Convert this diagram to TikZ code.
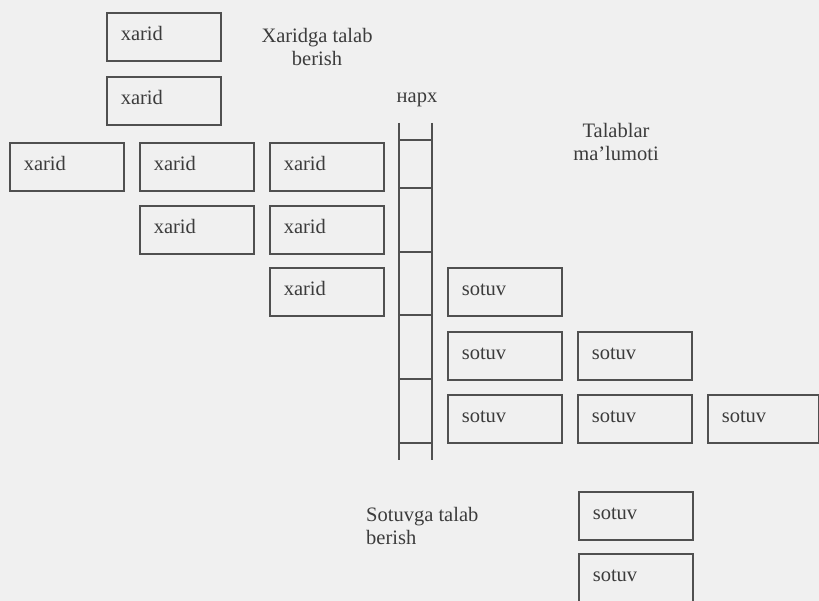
\documentclass[tikz,border=0pt]{standalone}
\usepackage{fontspec}
\setmainfont{Liberation Serif}
\definecolor{bgc}{HTML}{F0F0F0}
\definecolor{linec}{HTML}{505050}
\definecolor{txtc}{HTML}{3C3C3C}
\newcommand\boxtext[2][86pt]{\makebox[#1][l]{#2}}
\tikzset{
  box/.style={draw=linec, line width=1.6pt, anchor=north west,
    minimum height=48pt, inner xsep=14pt, inner ysep=0pt,
    text height=12pt, text depth=4pt,
    font=\fontsize{20.5}{23}\selectfont, text=txtc},
  lbl/.style={inner sep=0pt, font=\fontsize{20.5}{23.5}\selectfont, text=txtc},
  rail/.style={draw=linec, line width=1.6pt}
}
\begin{document}
\begin{tikzpicture}[x=1pt,y=-1pt]
\fill[bgc] (0,0) rectangle (819,601);
\useasboundingbox (0,0) rectangle (819,601);
% xarid boxes
\node[box] (x1) at (106,12) {\boxtext{xarid}};
\node[box] (x2) at (106,76) {\boxtext{xarid}};
\node[box] (x3) at (9,142) {\boxtext{xarid}};
\node[box] (x4) at (139,142) {\boxtext{xarid}};
\node[box] (x5) at (269,142) {\boxtext{xarid}};
\node[box] (x6) at (139,205) {\boxtext{xarid}};
\node[box] (x7) at (269,205) {\boxtext{xarid}};
\node[box] (x8) at (269,267) {\boxtext{xarid}};
% sotuv boxes
\node[box] (s1) at (447,267) {\boxtext{sotuv}};
\node[box] (s2) at (447,331) {\boxtext{sotuv}};
\node[box] (s3) at (577,331) {\boxtext{sotuv}};
\node[box] (s4) at (447,394) {\boxtext{sotuv}};
\node[box] (s5) at (577,394) {\boxtext{sotuv}};
\node[box] (s6) at (707,394) {\boxtext[83pt]{sotuv}};
\node[box] (s7) at (578,491) {\boxtext{sotuv}};
\node[box] (s8) at (578,553) {\boxtext{sotuv}};
% labels
\node[lbl, anchor=north, align=center] (lx) at (317,28) {Xaridga talab\\berish};
\node[lbl, anchor=north, align=center] (lt) at (616,123) {Talablar\\ma’lumoti};
\node[lbl, anchor=north west, align=left] (ls) at (366,507) {Sotuvga talab\\berish};
\node[lbl, anchor=base] (ln) at (417,103) {нарх};
% ladder
\coordinate (lt1) at (399,123);
\coordinate (lb1) at (399,460);
\coordinate (rt1) at (432,123);
\coordinate (rb1) at (432,460);
\draw[rail] (lt1) -- (lb1);
\draw[rail] (rt1) -- (rb1);
\foreach \yy in {140,188,252,315,379,443}
  \draw[rail] (399,\yy) -- (432,\yy);
\end{tikzpicture}
\end{document}
